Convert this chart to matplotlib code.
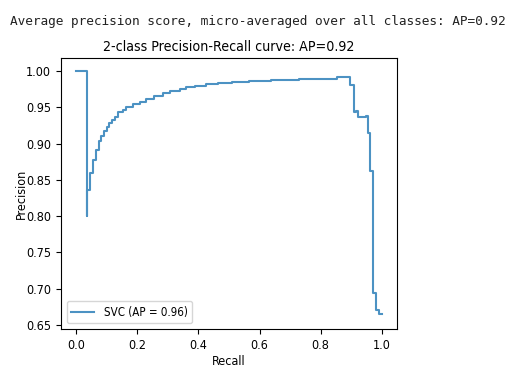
import matplotlib
matplotlib.use("Agg")
import matplotlib.pyplot as plt

# Precision-recall points (recall ascending, drawn with steps-post)
recall = [0.0, 0.034, 0.034, 0.045, 0.056, 0.064, 0.073, 0.082, 0.091, 0.100,
          0.108, 0.117, 0.127, 0.137, 0.152, 0.163, 0.185, 0.207, 0.229, 0.256,
          0.284, 0.306, 0.339, 0.358, 0.388, 0.424, 0.463, 0.509, 0.566, 0.637,
          0.729, 0.853, 0.8965, 0.9077, 0.915, 0.923, 0.949, 0.9547, 0.9625,
          0.970, 0.981, 0.990, 1.0]
precision = [1.0, 0.800, 0.836, 0.859, 0.877, 0.891, 0.903, 0.910, 0.917, 0.923,
             0.929, 0.933, 0.937, 0.943, 0.946, 0.951, 0.954, 0.958, 0.962, 0.966,
             0.970, 0.972, 0.975, 0.9775, 0.980, 0.9817, 0.983, 0.985, 0.986, 0.988,
             0.9894, 0.9913, 0.9807, 0.943, 0.945, 0.9366, 0.9384, 0.915, 0.8626,
             0.6945, 0.6707, 0.6647, 0.6647]

printed_text = "Average precision score, micro-averaged over all classes: AP=0.92"
title = "2-class Precision-Recall curve: AP=0.92"
legend_label = "SVC (AP = 0.96)"

plt.rcParams['font.family'] = ['DejaVu Sans']
plt.rcParams['font.stretch'] = 'condensed'
plt.rcParams['font.size'] = 9

fig = plt.figure(figsize=(5.14, 3.67), dpi=100)
ax = fig.add_axes([0.1187, 0.1035, 0.6537, 0.7385])

ax.plot(recall, precision, drawstyle="steps-post", color="#1f77b4", alpha=0.8,
        linewidth=1.5, label=legend_label)
ax.set_ylim(0.6445, 1.018)
ax.set_xlabel("Recall", labelpad=2)
ax.set_ylabel("Precision", labelpad=-1.5)
ax.set_title(title, fontsize=10.2, pad=5)
ax.legend(loc="lower left", fontsize=8.3)

# notebook print output above the figure
fig.text(10 / 514, 1 - 25 / 367, printed_text, family="DejaVu Sans Mono",
         fontstretch="normal", fontsize=9.15, color="#222222", va="baseline",
         ha="left")

fig.savefig("out.png", dpi=100)
